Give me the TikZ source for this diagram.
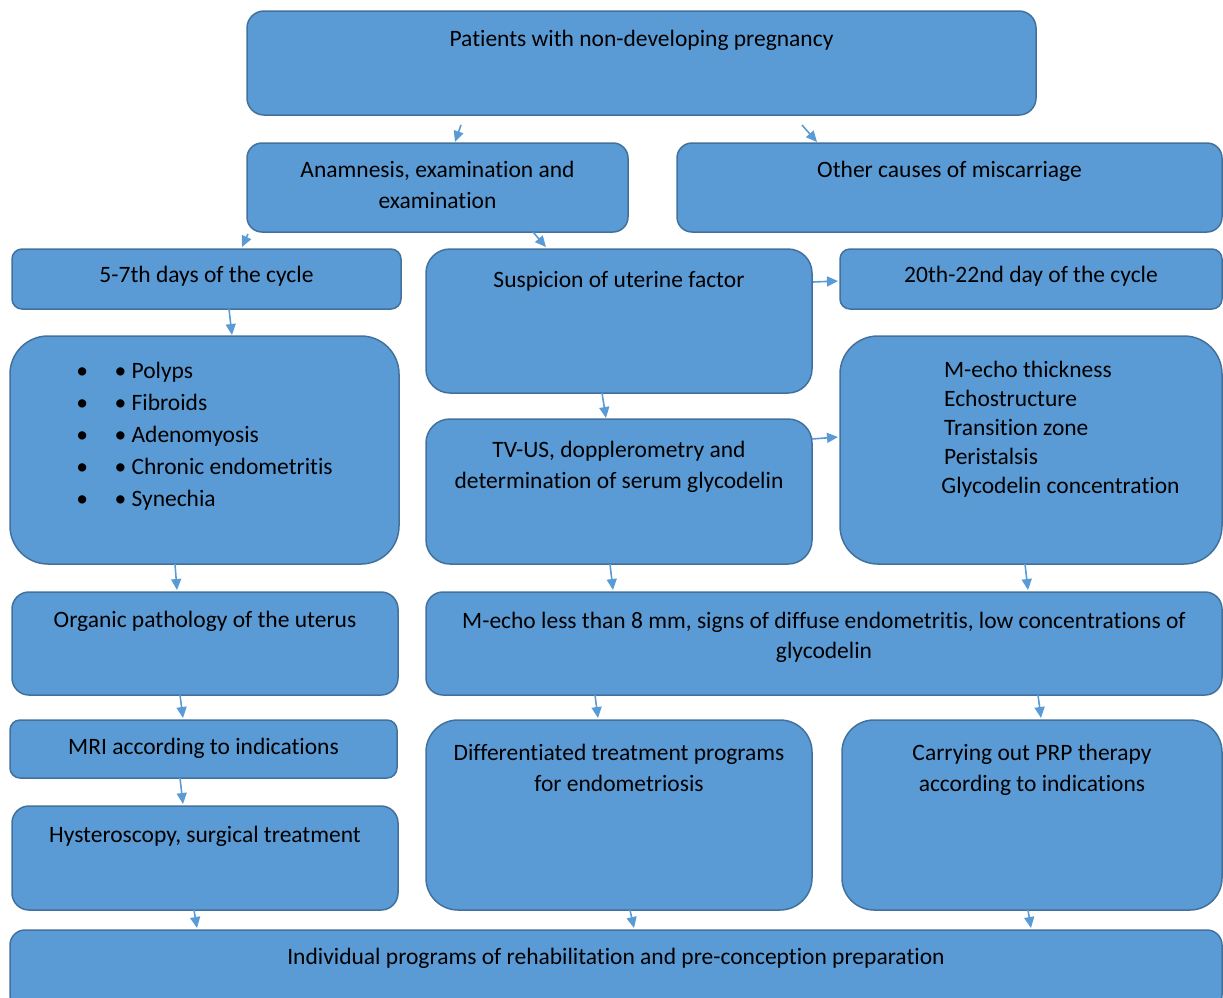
\documentclass[tikz,border=0pt]{standalone}
\usepackage{fontspec}
\setmainfont{Carlito}[Ligatures=NoCommon]
\usetikzlibrary{arrows.meta}
\definecolor{cardfill}{HTML}{5B9BD5}
\definecolor{cardedge}{HTML}{41719C}
\definecolor{linkblue}{HTML}{5B9BD5}
\newcommand{\cardlines}[1]{\begin{tabular}[t]{@{}c@{}}#1\end{tabular}}
\tikzset{
    card/.style = {
      draw=cardedge, fill=cardfill, line width=1.5pt, anchor=north west,
      inner sep=0pt, outer sep=0pt, font=\fontsize{23.5}{31}\selectfont,
    },
    link/.style = {
      linkblue, line width=1.6pt, arrows={-Triangle[length=11pt, width=10pt]},
    },
}

\begin{document}
\begin{tikzpicture}[x=1pt, y=-1pt]
    \useasboundingbox (0,0) rectangle (1223,997);

    %% Top of the scheme
    \node [card, minimum width=789pt, text height=35pt, text depth=69pt, rounded corners=17pt] (patients) at (247,11)
      {\cardlines{Patients with non-developing pregnancy}};
    \node [card, minimum width=381pt, text height=34pt, text depth=55pt, rounded corners=15pt] (anamnesis) at (247,143)
      {\cardlines{Anamnesis, examination and\\examination}};
    \node [card, minimum width=545pt, text height=34pt, text depth=55pt, rounded corners=15pt] (othercauses) at (677,143)
      {\cardlines{Other causes of miscarriage}};

    %% Left column
    \node [card, minimum width=389pt, text height=33pt, text depth=27pt, rounded corners=10pt] (days57) at (12,249)
      {\cardlines{5-7th days of the cycle}};
    \node [card, minimum width=389pt, text height=42pt, text depth=186pt, rounded corners=38pt,
           font=\fontsize{23.5}{32.1}\selectfont] (findings) at (10,336)
      {\begin{tabular}[t]{@{}l@{}}
         \makebox[38.3pt][l]{•}• Polyps\\
         \makebox[38.3pt][l]{•}• Fibroids\\
         \makebox[38.3pt][l]{•}• Adenomyosis\\
         \makebox[38.3pt][l]{•}• Chronic endometritis\\
         \makebox[38.3pt][l]{•}• Synechia
       \end{tabular}};
    \node [card, minimum width=386pt, text height=35pt, text depth=68pt, rounded corners=17pt] (organic) at (12,592)
      {\cardlines{Organic pathology of the uterus}};
    \node [card, minimum width=387pt, text height=34pt, text depth=24pt, rounded corners=10pt] (mri) at (10,720)
      {\cardlines{MRI according to indications}};
    \node [card, minimum width=386pt, text height=36pt, text depth=68pt, rounded corners=17pt] (hysteroscopy) at (12,806)
      {\cardlines{Hysteroscopy, surgical treatment}};

    %% Middle column
    \node [card, minimum width=386pt, text height=38pt, text depth=106pt, rounded corners=24pt] (suspicion) at (426,249)
      {\cardlines{Suspicion of uterine factor}};
    \node [card, minimum width=386pt, text height=38pt, text depth=107pt, rounded corners=24pt] (tvus) at (426,419)
      {\cardlines{TV-US, dopplerometry and\\determination of serum glycodelin}};
    \node [card, minimum width=796pt, text height=36pt, text depth=67pt, rounded corners=17pt,
           font=\fontsize{23.5}{30}\selectfont] (lessthan) at (426,592)
      {\cardlines{M-echo less than 8 mm, signs of diffuse endometritis, low concentrations of\\glycodelin}};
    \node [card, minimum width=386pt, text height=40pt, text depth=150pt, rounded corners=32pt] (diffprog) at (426,720)
      {\cardlines{Differentiated treatment programs\\for endometriosis}};

    %% Right column
    \node [card, minimum width=382pt, text height=33pt, text depth=27pt, rounded corners=10pt] (days2022) at (840,249)
      {\cardlines{20th-22nd day of the cycle}};
    \node [card, minimum width=382pt, text height=41pt, text depth=187pt, rounded corners=38pt,
           font=\fontsize{23.5}{29}\selectfont] (mecho) at (840,336)
      {\begin{tabular}[t]{@{\hspace*{59pt}}l@{}}
         \hspace*{2.6pt}M-echo thickness\\
         \hspace*{2.6pt}Echostructure\\
         \hspace*{2.6pt}Transition zone\\
         \hspace*{2.6pt}Peristalsis\\
         Glycodelin concentration
       \end{tabular}};
    \node [card, minimum width=380pt, text height=40pt, text depth=150pt, rounded corners=32pt] (prp) at (842,720)
      {\cardlines{Carrying out PRP therapy\\according to indications}};

    %% Bottom
    \node [card, minimum width=1212pt, text height=34pt, text depth=46pt, rounded corners=15pt] (individual) at (10,930)
      {\cardlines{Individual programs of rehabilitation and pre-conception preparation}};

    %% Arrows between the cards
    \draw [link] ([shift={(214,10)}] patients.south west) -- ([shift={(208,-1)}] anamnesis.north west);
    \draw [link] ([shift={(555,10)}] patients.south west) -- ([shift={(140,-1)}] othercauses.north west);
    \draw [link] ([shift={(1,2)}] anamnesis.south west) -- ([shift={(230,-2)}] days57.north west);
    \draw [link] ([shift={(286,0)}] anamnesis.south west) -- ([shift={(120,-2)}] suspicion.north west);
    \draw [link] ([shift={(217,0)}] days57.south west) -- ([shift={(222,-1)}] findings.north west);
    \draw [link] ([shift={(1,33)}] suspicion.north east) -- ([shift={(-2,32)}] days2022.north west);
    \draw [link] ([shift={(176,0)}] suspicion.south west) -- ([shift={(180,-1)}] tvus.north west);
    \draw [link] ([shift={(0,20)}] tvus.north east) -- ([shift={(-2,101)}] mecho.north west);
    \draw [link] ([shift={(165,0)}] findings.south west) -- ([shift={(165,-2)}] organic.north west);
    \draw [link] ([shift={(184,0)}] tvus.south west) -- ([shift={(187,-2)}] lessthan.north west);
    \draw [link] ([shift={(185,0)}] mecho.south west) -- ([shift={(602,-2)}] lessthan.north west);
    \draw [link] ([shift={(168,0)}] organic.south west) -- ([shift={(173,-2)}] mri.north west);
    \draw [link] ([shift={(169,0)}] lessthan.south west) -- ([shift={(172,-2)}] diffprog.north west);
    \draw [link] ([shift={(612,0)}] lessthan.south west) -- ([shift={(199,-2)}] prp.north west);
    \draw [link] ([shift={(170,0)}] mri.south west) -- ([shift={(171,-2)}] hysteroscopy.north west);
    \draw [link] ([shift={(182,0)}] hysteroscopy.south west) -- ([shift={(187,-2)}] individual.north west);
    \draw [link] ([shift={(204,0)}] diffprog.south west) -- ([shift={(624,-2)}] individual.north west);
    \draw [link] ([shift={(186,0)}] prp.south west) -- ([shift={(1021,-2)}] individual.north west);
\end{tikzpicture}
\end{document}
